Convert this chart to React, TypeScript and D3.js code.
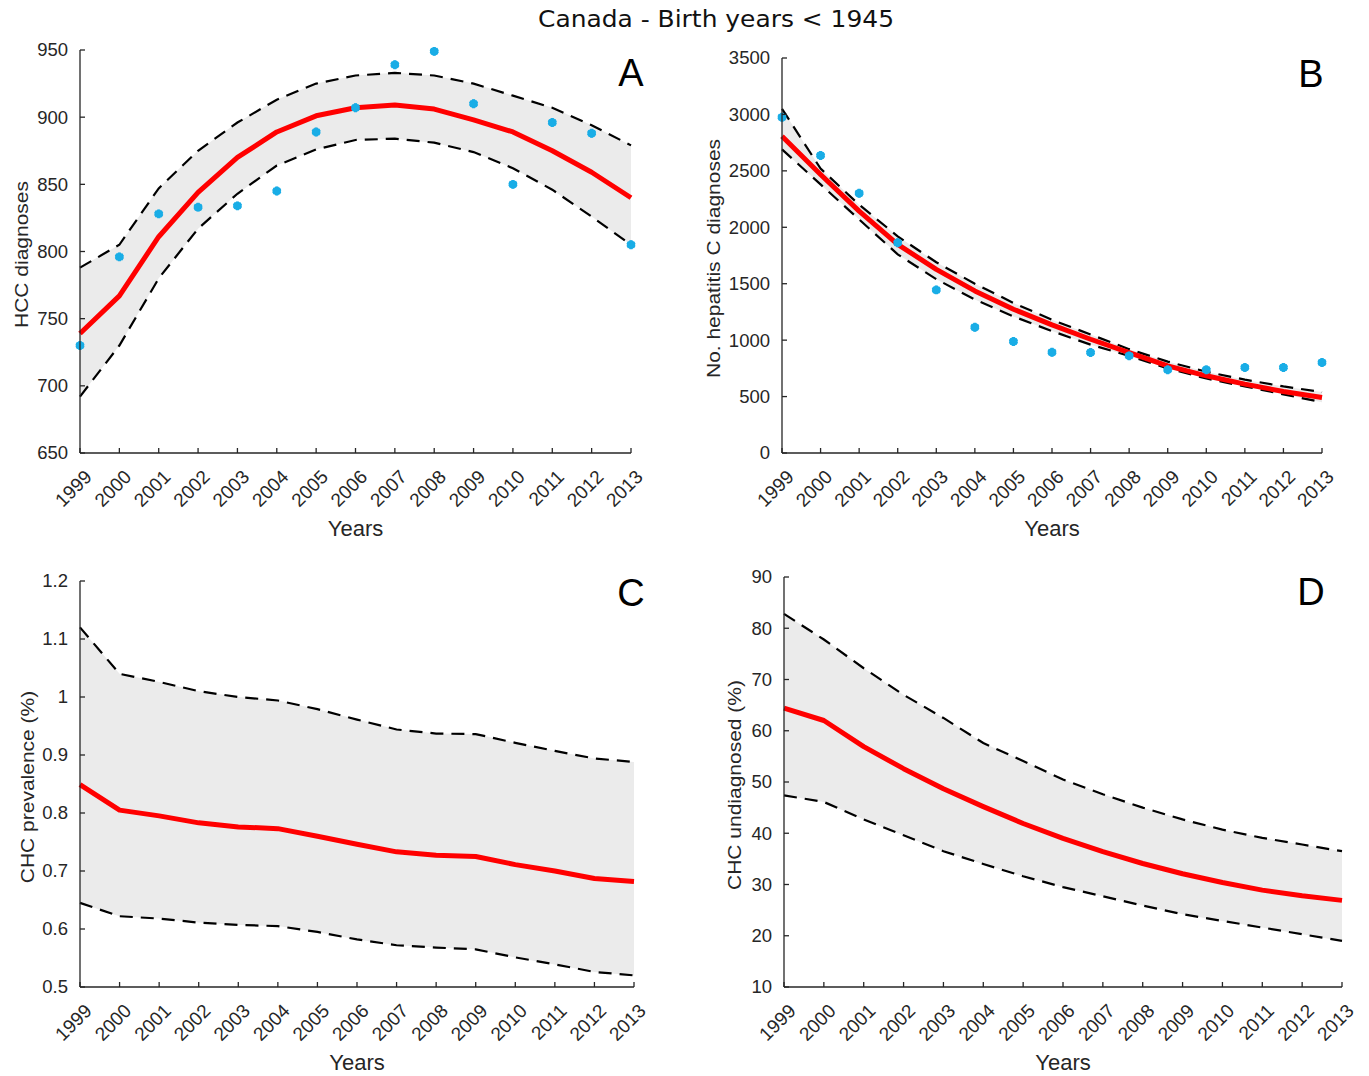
import React from "react";
import * as d3 from "d3";

// ---------- data ----------
const years = [1999, 2000, 2001, 2002, 2003, 2004, 2005, 2006, 2007, 2008, 2009, 2010, 2011, 2012, 2013];

// Panel A: HCC diagnoses
const hccObserved = [730, 796, 828, 833, 834, 845, 889, 907, 939, 949, 910, 850, 896, 888, 805];
const hccModel = [739, 767, 811, 844, 870, 889, 901, 907, 909, 906, 898, 889, 875, 859, 840];
const hccUpper = [788, 805, 847, 875, 896, 913, 925, 931, 933, 931, 925, 916, 907, 894, 879];
const hccLower = [692, 730, 780, 817, 843, 864, 876, 883, 884, 881, 874, 862, 846, 826, 805];
const hccTicks = [650, 700, 750, 800, 850, 900, 950];

// Panel B: hepatitis C diagnoses
const hcvObserved = [2975, 2636, 2302, 1863, 1445, 1114, 988, 893, 890, 861, 737, 737, 758, 758, 802];
const hcvModel = [2807, 2468, 2143, 1849, 1627, 1436, 1274, 1135, 1008, 890, 772, 684, 610, 545, 492];
const hcvUpper = [3050, 2520, 2200, 1920, 1690, 1500, 1330, 1180, 1050, 920, 810, 720, 650, 590, 540];
const hcvLower = [2690, 2380, 2070, 1760, 1540, 1360, 1210, 1080, 960, 860, 750, 660, 590, 520, 450];
const hcvTicks = [0, 500, 1000, 1500, 2000, 2500, 3000, 3500];

// Panel C: CHC prevalence (%)
const prevModel = [0.849, 0.805, 0.795, 0.783, 0.776, 0.773, 0.76, 0.746, 0.733, 0.727, 0.725, 0.711, 0.7, 0.687, 0.682];
const prevUpper = [1.12, 1.04, 1.026, 1.01, 1.0, 0.994, 0.979, 0.961, 0.944, 0.937, 0.936, 0.921, 0.907, 0.894, 0.888];
const prevLower = [0.645, 0.622, 0.618, 0.611, 0.607, 0.605, 0.595, 0.582, 0.572, 0.568, 0.565, 0.551, 0.539, 0.526, 0.52];
const prevTicks = [0.5, 0.6, 0.7, 0.8, 0.9, 1.0, 1.1, 1.2];
const prevTickLabels = ["0.5", "0.6", "0.7", "0.8", "0.9", "1", "1.1", "1.2"];

// Panel D: CHC undiagnosed (%)
const undiagModel = [64.4, 62.0, 56.9, 52.6, 48.7, 45.2, 41.9, 39.0, 36.4, 34.1, 32.1, 30.4, 28.9, 27.8, 26.9];
const undiagUpper = [82.8, 77.8, 72.2, 67.0, 62.5, 57.6, 54.1, 50.5, 47.6, 45.0, 42.7, 40.7, 39.1, 37.8, 36.5];
const undiagLower = [47.4, 46.1, 42.7, 39.6, 36.5, 34.0, 31.6, 29.5, 27.7, 25.9, 24.2, 22.9, 21.6, 20.3, 19.0];
const undiagTicks = [10, 20, 30, 40, 50, 60, 70, 80, 90];

const title = "Canada - Birth years < 1945";

// ---------- styles ----------
const AXIS = "#262626";
const BAND = "#ebebeb";
const RED = "#ff0000";
const MARKER = "#19ade6";
const FONT = "'Liberation Sans', Arial, Helvetica, sans-serif";

type PanelProps = {
  x0: number; x1: number; yTop: number; yBot: number;
  domain: [number, number];
  ticks: number[];
  tickLabels?: string[];
  model: number[]; upper: number[]; lower: number[];
  observed?: number[];
  ylabel: string;
  ylabelX: number;
  letter: string; letterX: number; letterY: number;
};

function Panel(p: PanelProps) {
  const x = d3.scaleLinear().domain([years[0], years[years.length - 1]]).range([p.x0, p.x1]);
  const y = d3.scaleLinear().domain(p.domain).range([p.yBot, p.yTop]);
  const idx = years.map((_, i) => i);
  const area = d3.area<number>()
    .x((i) => x(years[i]))
    .y0((i) => y(p.lower[i]))
    .y1((i) => y(p.upper[i]));
  const line = (vals: number[]) =>
    d3.line<number>().x((i) => x(years[i])).y((i) => y(vals[i]))(idx) || "";
  const star = d3.symbol().type(d3.symbolAsterisk).size(55)() || "";
  const yMid = (p.yTop + p.yBot) / 2 + 3;
  return (
    <g>
      <path d={area(idx) || ""} fill={BAND} stroke="none" />
      <path d={line(p.upper)} fill="none" stroke="#000" strokeWidth={2.2} strokeDasharray="13 8" />
      <path d={line(p.lower)} fill="none" stroke="#000" strokeWidth={2.2} strokeDasharray="13 8" />
      <path d={line(p.model)} fill="none" stroke={RED} strokeWidth={5} strokeLinejoin="round" />
      {p.observed &&
        p.observed.map((v, i) => (
          <g key={i} transform={`translate(${x(years[i])},${y(v)})`}>
            <circle r={4.2} fill={MARKER} />
            <path d={star} fill="none" stroke={MARKER} strokeWidth={3} />
          </g>
        ))}
      {/* axes */}
      <line x1={p.x0} x2={p.x0} y1={p.yTop} y2={p.yBot} stroke={AXIS} strokeWidth={1.3} />
      <line x1={p.x0} x2={p.x1} y1={p.yBot} y2={p.yBot} stroke={AXIS} strokeWidth={1.3} />
      {p.ticks.map((t, i) => (
        <g key={"yt" + i}>
          <line x1={p.x0} x2={p.x0 + 5} y1={y(t)} y2={y(t)} stroke={AXIS} strokeWidth={1.3} />
          <text x={p.x0 - 12} y={y(t)} dy="0.35em" textAnchor="end" fontSize={18.5}
            fontFamily={FONT} fill={AXIS}>
            {p.tickLabels ? p.tickLabels[i] : String(t)}
          </text>
        </g>
      ))}
      {years.map((yr) => (
        <g key={"xt" + yr}>
          <line x1={x(yr)} x2={x(yr)} y1={p.yBot} y2={p.yBot - 5} stroke={AXIS} strokeWidth={1.3} />
          <text transform={`translate(${x(yr) + 13},${p.yBot + 25}) rotate(-45)`} textAnchor="end"
            fontSize={19} fontFamily={FONT} fill={AXIS}>
            {yr}
          </text>
        </g>
      ))}
      <text x={(p.x0 + p.x1) / 2} y={p.yBot + 83} textAnchor="middle" fontSize={22}
        fontFamily={FONT} fill={AXIS}>
        Years
      </text>
      <text transform={`translate(${p.ylabelX},${yMid}) scale(0.85,1) rotate(-90)`} textAnchor="middle"
        fontSize={21} fontFamily={FONT} fill={AXIS}>
        {p.ylabel}
      </text>
      <text x={p.letterX} y={p.letterY} textAnchor="middle" fontSize={38} fontFamily={FONT} fill="#000">
        {p.letter}
      </text>
    </g>
  );
}

export default function App() {
  return (
    <svg width={1369} height={1076} style={{ position: "absolute", left: 0, top: 0, background: "#fff" }}>
      <rect width={1369} height={1076} fill="#fff" />
      <text x={716} y={27} textAnchor="middle" fontSize={23} textLength={356} lengthAdjust="spacingAndGlyphs"
        fontFamily="'DejaVu Sans', Verdana, sans-serif" fill="#111">
        {title}
      </text>
      <Panel x0={80} x1={631} yTop={50} yBot={453} domain={[650, 950]} ticks={hccTicks}
        model={hccModel} upper={hccUpper} lower={hccLower} observed={hccObserved}
        ylabel="HCC diagnoses" ylabelX={28} letter="A" letterX={631} letterY={86} />
      <Panel x0={782} x1={1322} yTop={58} yBot={453} domain={[0, 3500]} ticks={hcvTicks}
        model={hcvModel} upper={hcvUpper} lower={hcvLower} observed={hcvObserved}
        ylabel="No. hepatitis C diagnoses" ylabelX={720} letter="B" letterX={1311} letterY={87} />
      <Panel x0={80} x1={634} yTop={581} yBot={987} domain={[0.5, 1.2]} ticks={prevTicks}
        tickLabels={prevTickLabels}
        model={prevModel} upper={prevUpper} lower={prevLower}
        ylabel="CHC prevalence (%)" ylabelX={34} letter="C" letterX={631} letterY={606} />
      <Panel x0={784} x1={1342} yTop={577} yBot={987} domain={[10, 90]} ticks={undiagTicks}
        model={undiagModel} upper={undiagUpper} lower={undiagLower}
        ylabel="CHC undiagnosed (%)" ylabelX={741} letter="D" letterX={1311} letterY={605} />
    </svg>
  );
}
